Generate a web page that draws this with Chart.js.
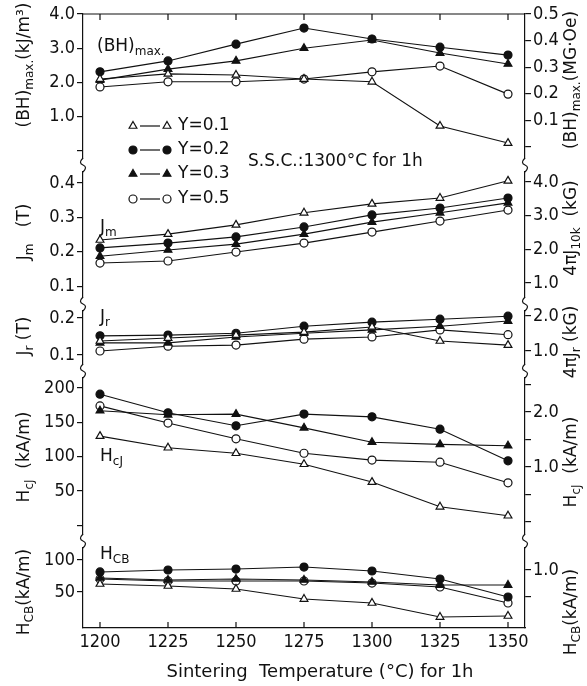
<!DOCTYPE html>
<html>
<head>
<meta charset="utf-8">
<script src="https://cdn.jsdelivr.net/npm/chart.js@4.4.1/dist/chart.umd.min.js"></script>
<style>
  html, body { margin: 0; padding: 0; background: #fff; }
</style>
</head>
<body>
<canvas id="chart" width="587" height="686"></canvas>
<script>
// sintering temperatures (x axis)
var temps = [1200, 1225, 1250, 1275, 1300, 1325, 1350];
var seriesNames = ["Y=0.1", "Y=0.2", "Y=0.3", "Y=0.5"];

// (BH)max (kJ/m3 x10)
var bhY01 = [2.10, 2.25, 2.22, 2.10, 2.02, 0.73, 0.23];
var bhY02 = [2.31, 2.63, 3.12, 3.59, 3.27, 3.03, 2.80];
var bhY03 = [2.07, 2.39, 2.63, 3.00, 3.24, 2.86, 2.54];
var bhY05 = [1.87, 2.02, 2.02, 2.10, 2.31, 2.48, 1.66];

// Jm (T)
var jmY01 = [0.234, 0.251, 0.278, 0.313, 0.339, 0.356, 0.406];
var jmY02 = [0.211, 0.225, 0.243, 0.272, 0.307, 0.327, 0.356];
var jmY03 = [0.187, 0.205, 0.222, 0.251, 0.286, 0.313, 0.342];
var jmY05 = [0.167, 0.173, 0.199, 0.225, 0.257, 0.289, 0.321];

// Jr (T)
var jrY01 = [0.138, 0.146, 0.154, 0.162, 0.176, 0.138, 0.127];
var jrY02 = [0.152, 0.154, 0.159, 0.178, 0.189, 0.197, 0.205];
var jrY03 = [0.133, 0.133, 0.149, 0.159, 0.168, 0.178, 0.192];
var jrY05 = [0.111, 0.124, 0.127, 0.143, 0.149, 0.168, 0.155];

// HcJ (kA/m)
var hcjY01 = [130, 113, 105, 89, 63, 27, 14];
var hcjY02 = [191, 164, 145, 162, 158, 140, 94];
var hcjY03 = [167, 161, 162, 142, 121, 118, 116];
var hcjY05 = [174, 149, 126, 105, 95, 92, 62];

// HcB (kA/m)
var hcbY01 = [62.5, 59.4, 54.7, 39.0, 32.8, 10.9, 12.5];
var hcbY02 = [81.3, 84.4, 85.9, 89.0, 82.8, 70.3, 42.2];
var hcbY03 = [71.9, 68.8, 70.3, 68.8, 65.6, 60.9, 60.9];
var hcbY05 = [70.3, 67.2, 67.2, 67.2, 64.0, 57.8, 32.8];

// tick values + labels, left axes
var bhTicks = [0, 1, 2, 3, 4],            bhLabels = ["", "1.0", "2.0", "3.0", "4.0"];
var jmTicks = [0.1, 0.2, 0.3, 0.4],       jmLabels = ["0.1", "0.2", "0.3", "0.4"];
var jrTicks = [0.1, 0.2],                 jrLabels = ["0.1", "0.2"];
var hcjTicks = [0, 50, 100, 150, 200],    hcjLabels = ["", "50", "100", "150", "200"];
var hcbTicks = [50, 100],                 hcbLabels = ["50", "100"];
// right axes
var bhRTicks = [0, 0.1, 0.2, 0.3, 0.4, 0.5], bhRLabels = ["", "0.1", "0.2", "0.3", "0.4", "0.5"];
var jmRTicks = [1, 2, 3, 4],              jmRLabels = ["1.0", "2.0", "3.0", "4.0"];
var jrRTicks = [1, 2],                    jrRLabels = ["1.0", "2.0"];
var hcjRTicks = [0, 0.5, 1, 1.5, 2, 2.5], hcjRLabels = ["", "", "1.0", "", "2.0", ""];
var hcbRTicks = [0.5, 1],                 hcbRLabels = ["", "1.0"];

var TICKFONT = "'DejaVu Sans Condensed', 'DejaVu Sans', sans-serif";
var FONT = "'DejaVu Sans', sans-serif";
var INK = "#111";

// marker styles per series
var styles = [
  { pointStyle: "triangle", radius: 4.5, fill: "#fff" },
  { pointStyle: "circle",   radius: 4,   fill: INK },
  { pointStyle: "triangle", radius: 4.5, fill: INK },
  { pointStyle: "circle",   radius: 4,   fill: "#fff" }
];

var panels = [
  { id: "yBH",  series: [bhY01, bhY02, bhY03, bhY05] },
  { id: "yJm",  series: [jmY01, jmY02, jmY03, jmY05] },
  { id: "yJr",  series: [jrY01, jrY02, jrY03, jrY05] },
  { id: "yHcj", series: [hcjY01, hcjY02, hcjY03, hcjY05] },
  { id: "yHcb", series: [hcbY01, hcbY02, hcbY03, hcbY05] }
];

var datasets = [];
panels.forEach(function(p) {
  p.series.forEach(function(arr, k) {
    datasets.push({
      label: seriesNames[k],
      yAxisID: p.id,
      data: temps.map(function(t, i) { return { x: t, y: arr[i] }; }),
      borderColor: INK,
      borderWidth: 1.1,
      pointStyle: styles[k].pointStyle,
      pointRadius: styles[k].radius,
      pointBackgroundColor: styles[k].fill,
      pointBorderColor: INK,
      pointBorderWidth: 1.2,
      fill: false,
      tension: 0
    });
  });
});

function yAxis(pos, min, max, ticks, labels, stackWeight, order) {
  return {
    type: "linear",
    position: pos,
    stack: pos,
    stackWeight: stackWeight,
    weight: order,
    min: min,
    max: max,
    border: { display: true, color: INK, width: 1.2 },
    grid: { display: true, drawOnChartArea: false, drawTicks: true, tickLength: 6, color: INK, lineWidth: 1.2 },
    ticks: {
      color: INK,
      padding: 2,
      autoSkip: false,
      font: { family: TICKFONT, size: 18 },
      callback: function(v, i) { return labels[i]; }
    },
    afterBuildTicks: function(s) { s.ticks = ticks.map(function(v) { return { value: v }; }); },
    afterFit: function(s) { s.width = 40; }
  };
}

// panel heights in px: 151, 139, 67, 170, 87
var scales = {
  x: {
    type: "linear",
    position: "bottom",
    min: 1193.75,
    max: 1356.25,
    border: { display: true, color: INK, width: 1.2 },
    grid: { display: false, drawTicks: false },
    ticks: {
      color: INK,
      padding: 4,
      autoSkip: false,
      maxRotation: 0,
      font: { family: TICKFONT, size: 18 },
      callback: function(v) { return String(v); }
    },
    afterBuildTicks: function(s) { s.ticks = temps.map(function(v) { return { value: v }; }); },
    afterFit: function(s) { s.height = 30; }
  },
  // left: higher weight placed on top
  yBH:  yAxis("left", -0.41, 4.0, bhTicks, bhLabels, 151, 5),
  yJm:  yAxis("left", 0.048, 0.452, jmTicks, jmLabels, 139, 4),
  yJr:  yAxis("left", 0.057, 0.238, jrTicks, jrLabels, 67, 3),
  yHcj: yAxis("left", -22.8, 224.8, hcjTicks, hcjLabels, 170, 2),
  yHcb: yAxis("left", -6.25, 129.7, hcbTicks, hcbLabels, 87, 1),
  // right: lower weight placed on top
  yrBH:  yAxis("right", -0.068, 0.5, bhRTicks, bhRLabels, 151, 1),
  yrJm:  yAxis("right", 0.376, 4.505, jmRTicks, jmRLabels, 139, 2),
  yrJr:  yAxis("right", 0.429, 2.343, jrRTicks, jrRLabels, 67, 3),
  yrHcj: yAxis("right", -0.345, 2.745, hcjRTicks, hcjRLabels, 170, 4),
  yrHcb: yAxis("right", -0.074, 1.537, hcbRTicks, hcbRLabels, 87, 5)
};

// text with subscripts: parts = [[text, "sub"?], ...]
function partFont(p, size) {
  return (p[1] === "sub" ? Math.round(size * 0.72) : size) + "px " + FONT;
}
function richWidth(ctx, parts, size) {
  var w = 0;
  parts.forEach(function(p) { ctx.font = partFont(p, size); w += ctx.measureText(p[0]).width; });
  return w;
}
function drawRich(ctx, parts, x, y, size, align) {
  var w = richWidth(ctx, parts, size);
  var cx = align === "center" ? x - w / 2 : x;
  ctx.textBaseline = "middle";
  ctx.textAlign = "left";
  parts.forEach(function(p) {
    ctx.font = partFont(p, size);
    ctx.fillText(p[0], cx, p[1] === "sub" ? y + size * 0.3 : y);
    cx += ctx.measureText(p[0]).width;
  });
}
function drawVertical(ctx, parts, x, y, size) {
  ctx.save();
  ctx.translate(x, y);
  ctx.rotate(-Math.PI / 2);
  drawRich(ctx, parts, 0, 0, size, "center");
  ctx.restore();
}

var leftTitles = [
  { y: 65,  parts: [["(BH)"], ["max.", "sub"], ["(kJ/m³)"]] },
  { y: 232, parts: [["J"], ["m", "sub"], ["   (T)"]] },
  { y: 336, parts: [["J"], ["r", "sub"], [" (T)"]] },
  { y: 457, parts: [["H"], ["cJ", "sub"], ["  (kA/m)"]] },
  { y: 592, parts: [["H"], ["CB", "sub"], ["(kA/m)"]] }
];
var rightTitles = [
  { y: 80,  parts: [["(BH)"], ["max.", "sub"], ["(MG·Oe)"]] },
  { y: 228, parts: [["4πJ"], ["10k", "sub"], ["  (kG)"]] },
  { y: 342, parts: [["4πJ"], ["r", "sub"], [" (kG)"]] },
  { y: 462, parts: [["H"], ["cJ", "sub"], ["  (kA/m)"]] },
  { y: 612, parts: [["H"], ["CB", "sub"], ["(kA/m)"]] }
];
var panelLabels = [
  { x: 97,  y: 47,  parts: [["(BH)"], ["max.", "sub"]] },
  { x: 100, y: 228, parts: [["J"], ["m", "sub"]] },
  { x: 100, y: 318, parts: [["J"], ["r", "sub"]] },
  { x: 100, y: 457, parts: [["H"], ["cJ", "sub"]] },
  { x: 100, y: 555, parts: [["H"], ["CB", "sub"]] }
];

var decorPlugin = {
  id: "decor",
  afterDraw: function(chart) {
    var ctx = chart.ctx;
    var a = chart.chartArea;
    var xs = chart.scales.x;
    ctx.save();
    ctx.strokeStyle = INK;
    ctx.fillStyle = INK;
    ctx.lineWidth = 1.2;

    // top frame line
    ctx.beginPath();
    ctx.moveTo(a.left, a.top);
    ctx.lineTo(a.right, a.top);
    ctx.stroke();

    // inward x ticks, bottom and top
    temps.forEach(function(t) {
      var px = xs.getPixelForValue(t);
      ctx.beginPath();
      ctx.moveTo(px, a.bottom);
      ctx.lineTo(px, a.bottom - 6);
      ctx.moveTo(px, a.top);
      ctx.lineTo(px, a.top + 6);
      ctx.stroke();
    });

    // axis breaks between panels
    var ids = ["yBH", "yJm", "yJr", "yHcj"];
    ids.forEach(function(id) {
      var yb = chart.scales[id].bottom;
      [a.left, a.right].forEach(function(xb) {
        ctx.fillStyle = "#fff";
        ctx.fillRect(xb - 3, yb - 6, 6, 12);
        ctx.beginPath();
        ctx.moveTo(xb, yb - 7);
        ctx.quadraticCurveTo(xb - 5, yb - 2, xb, yb);
        ctx.quadraticCurveTo(xb + 5, yb + 2, xb, yb + 7);
        ctx.stroke();
      });
    });

    ctx.fillStyle = INK;
    leftTitles.forEach(function(t) { drawVertical(ctx, t.parts, 25, t.y, 17); });
    rightTitles.forEach(function(t) { drawVertical(ctx, t.parts, 572, t.y, 17); });
    panelLabels.forEach(function(t) { drawRich(ctx, t.parts, t.x, t.y, 17, "left"); });

    drawRich(ctx, [["S.S.C.:1300°C for 1h"]], 248, 162, 17, "left");
    drawRich(ctx, [["Sintering  Temperature (°C) for 1h"]], 320, 672, 18, "center");

    // legend
    var rows = [126, 150, 174, 199];
    rows.forEach(function(ry, k) {
      var st = styles[k];
      ctx.beginPath();
      ctx.moveTo(140, ry);
      ctx.lineTo(160, ry);
      ctx.stroke();
      [133, 167].forEach(function(mx) {
        ctx.fillStyle = st.fill;
        Chart.helpers.drawPoint(ctx, { pointStyle: st.pointStyle, radius: st.radius, rotation: 0, borderWidth: 1.2 }, mx, ry);
      });
      ctx.fillStyle = INK;
      drawRich(ctx, [[seriesNames[k]]], 178, ry, 17, "left");
    });
    ctx.restore();
  }
};

var ctx = document.getElementById("chart");
var myChart = new Chart(ctx, {
  type: "line",
  data: { datasets: datasets },
  options: {
    responsive: false,
    animation: false,
    devicePixelRatio: 1,
    layout: { padding: { left: 43, right: 22, top: 14, bottom: 28 } },
    plugins: {
      legend: { display: false },
      tooltip: { enabled: false }
    },
    scales: scales
  },
  plugins: [decorPlugin]
});
</script>
</body>
</html>
